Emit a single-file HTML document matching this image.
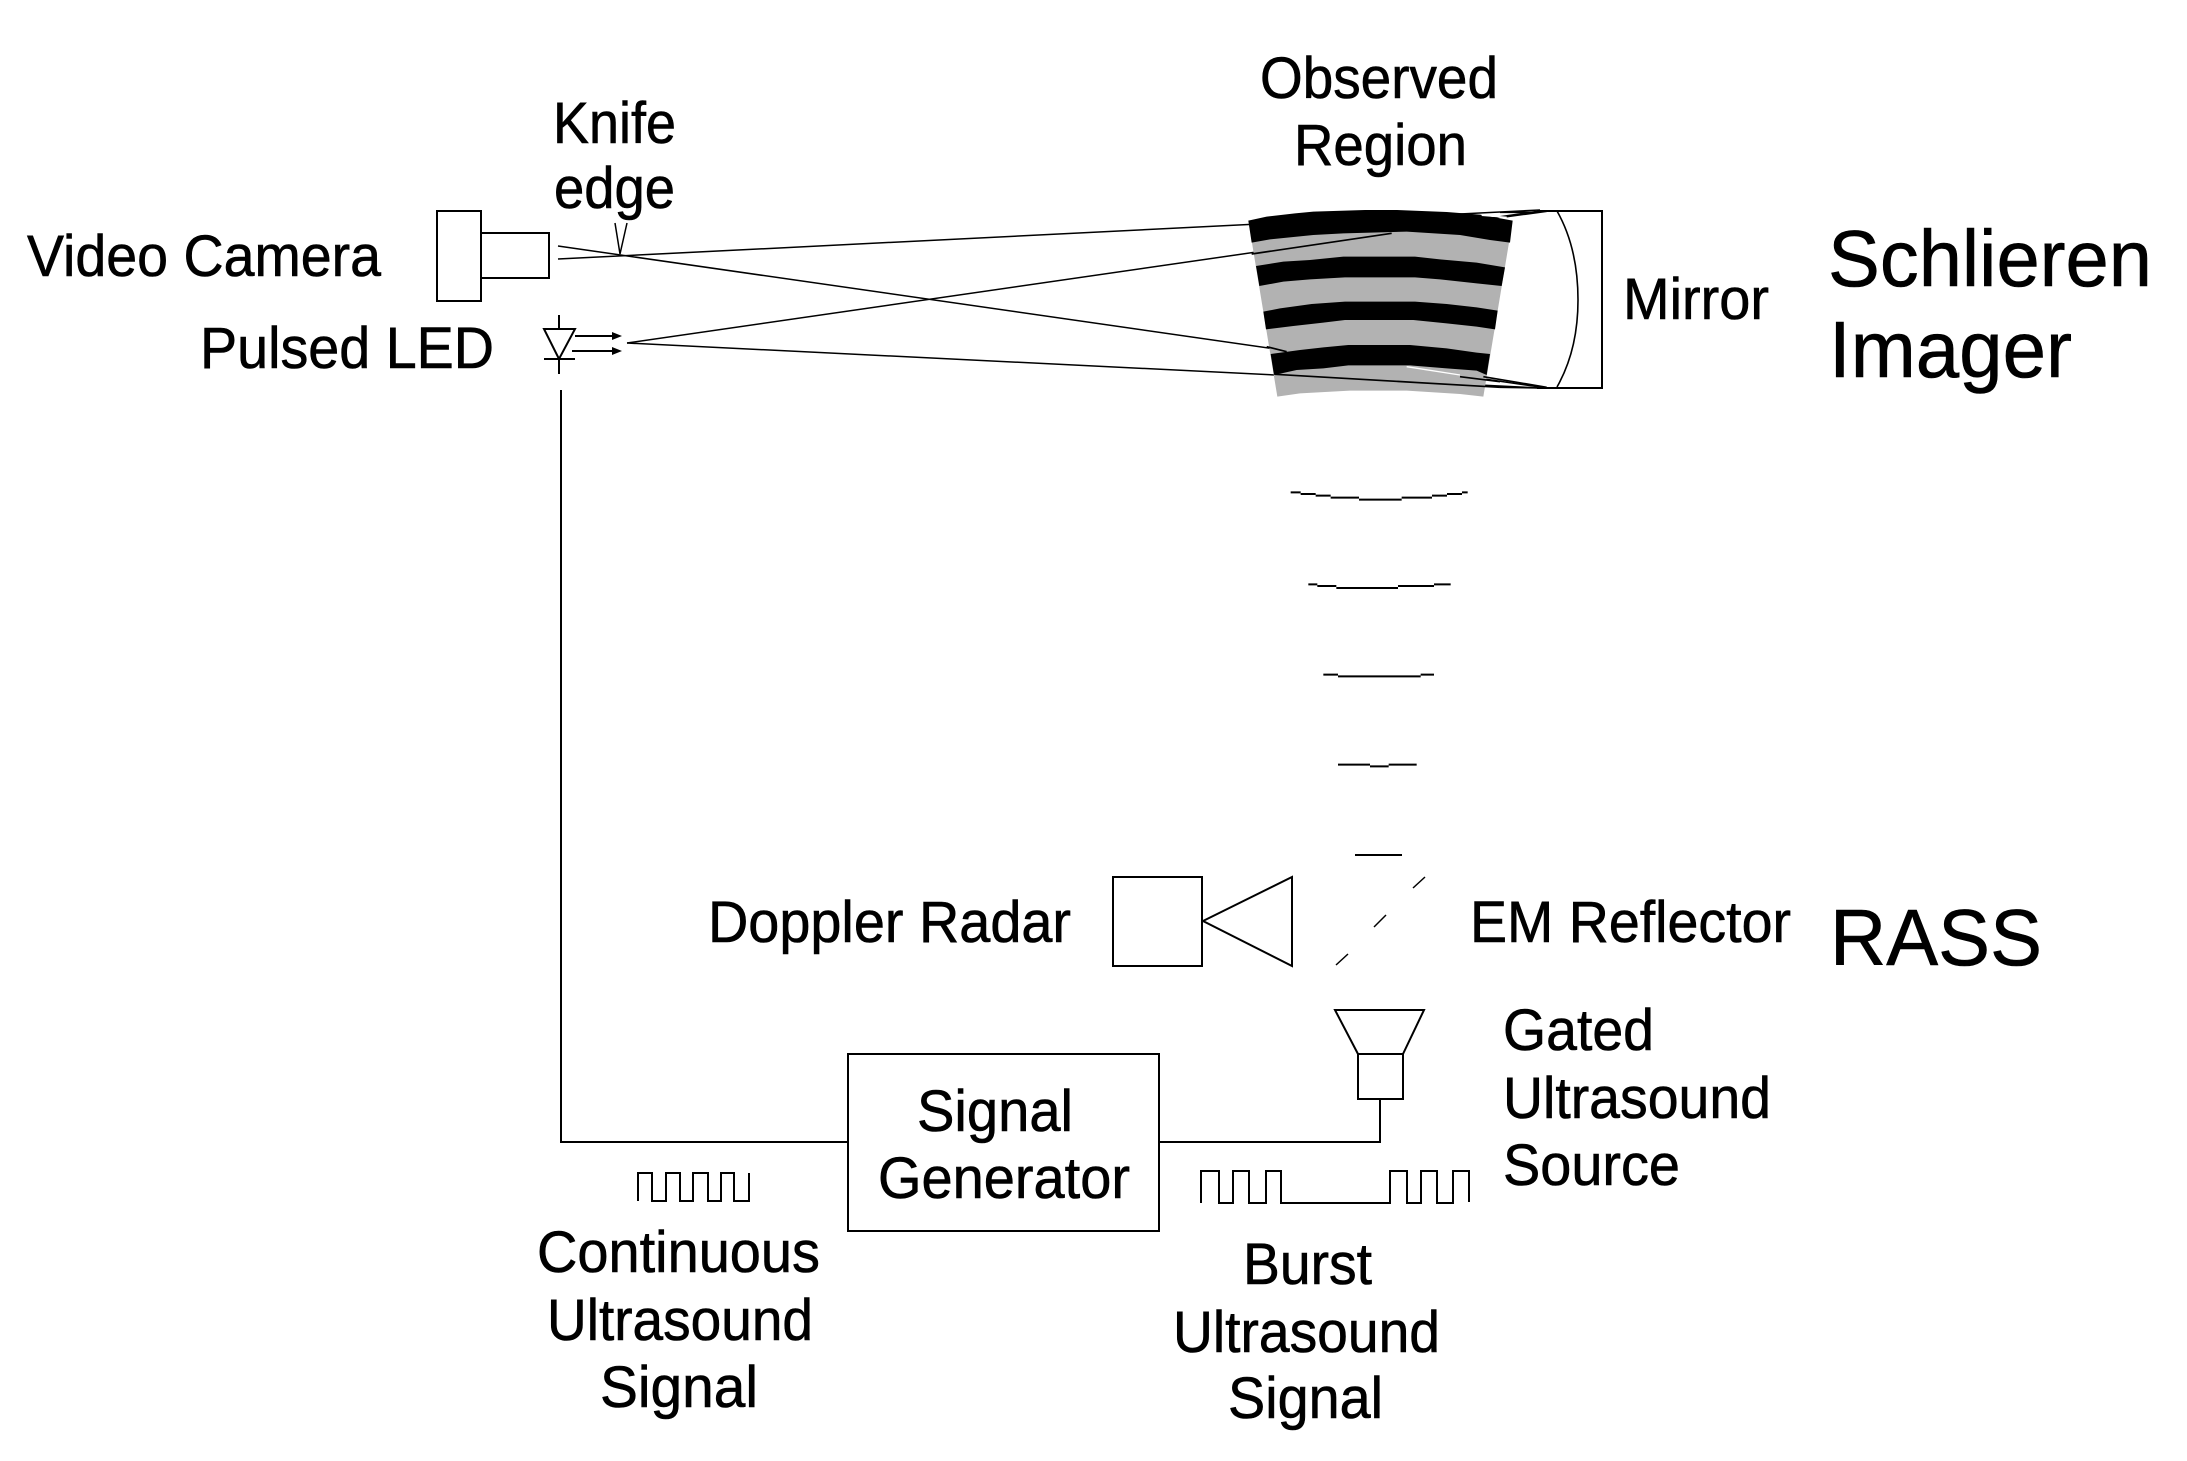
<!DOCTYPE html>
<html><head><meta charset="utf-8"><style>
html,body{margin:0;padding:0;background:#fff;width:2187px;height:1461px;overflow:hidden}
svg{display:block}
text{font-family:"Liberation Sans",Arial,sans-serif;fill:#000;font-size:58px;stroke:#000;stroke-width:.6}
.lg{font-size:80px}
.l{fill:none;stroke:#000;stroke-width:2}
.t{fill:none;stroke:#000;stroke-width:1.5}
</style></head><body>
<svg width="2187" height="1461" viewBox="0 0 2187 1461" xmlns="http://www.w3.org/2000/svg">
<rect width="2187" height="1461" fill="#fff"/>
<!-- rays -->
<g class="t">
<line x1="558" y1="259" x2="1540" y2="210"/>
<line x1="558" y1="246" x2="1540" y2="387"/>
<line x1="627" y1="343" x2="1540" y2="211"/>
<line x1="627" y1="343" x2="1540" y2="388"/>
</g>
<!-- sector -->
<g transform="translate(1200,180) scale(0.33333)">
<polygon fill="#b2b2b2" points="145,122 938,122 850,650 780,642 620,632 450,632 300,640 232,650"/>
<polygon fill="#000" points="145,122 200,110 285,100 340,95 495,90 590,90 740,96 840,104 938,122 930,188 870,180 780,165 620,155 430,160 340,165 210,178 155,188"/>
<polygon fill="#000" points="168,258 250,245 330,240 430,230 645,230 720,238 830,248 915,262 905,318 830,310 720,298 645,292 435,292 330,298 250,305 178,318"/>
<polygon fill="#000" points="190,395 240,385 335,372 435,365 645,365 740,372 830,382 893,392 885,448 830,440 740,430 640,420 435,420 370,428 280,438 198,448"/>
<polygon fill="#000" points="212,522 300,510 370,502 445,495 630,495 740,505 830,518 870,522 860,585 830,572 740,565 630,556 445,556 370,565 290,570 222,585"/>
<g fill="none" stroke="#000" stroke-width="5">
<line x1="155" y1="222" x2="575" y2="160"/>
<line x1="200" y1="500" x2="260" y2="515"/>
<line x1="225" y1="583" x2="900" y2="622"/>
<line x1="780" y1="590" x2="900" y2="605"/>
</g>
<g fill="none" stroke="#fff" stroke-width="4">
<line x1="845" y1="106" x2="920" y2="112"/>
<line x1="620" y1="560" x2="780" y2="585"/>
</g>
<g fill="none" stroke="#000" stroke-width="5">
<line x1="900" y1="97" x2="1010" y2="97"/>
<line x1="920" y1="110" x2="1040" y2="94"/>
<line x1="850" y1="590" x2="1040" y2="622"/>
<line x1="900" y1="622" x2="1040" y2="624"/>
</g>
</g>
<!-- mirror -->
<g class="l">
<polyline points="1537,211 1602,211 1602,388 1537,388"/>
<path d="M1557,211 Q1578,248 1578,300 Q1578,350 1557,387" stroke-width="1.6"/>
</g>
<!-- camera -->
<g class="l">
<rect x="437" y="211" width="44" height="90"/>
<rect x="481" y="233" width="68" height="45"/>
<polyline class="t" points="615,223 620,254 627,223"/>
</g>
<!-- LED -->
<g class="l">
<line x1="559" y1="315" x2="559" y2="329"/>
<line x1="559" y1="359" x2="559" y2="374"/>
<polygon points="544,329 575,329 559,359"/>
<line x1="544" y1="359" x2="575" y2="359"/>
<line x1="575" y1="336" x2="618" y2="336"/>
<line x1="572" y1="351" x2="618" y2="351"/>
</g>
<polygon points="622,336 612,332 612,340" fill="#000"/>
<polygon points="622,351 612,347 612,355" fill="#000"/>
<!-- wiring and signal generator -->
<g class="l">
<polyline points="561,390 561,1142 848,1142"/>
<rect x="848" y="1054" width="311" height="177"/>
<polyline points="1159,1142 1380,1142 1380,1099"/>
<rect x="1358" y="1054" width="45" height="45"/>
<polyline points="1358,1054 1335,1010 1424,1010 1403,1054"/>
<rect x="1113" y="877" width="89" height="89"/>
<polygon points="1203,921 1292,877 1292,966"/>
<polyline points="638,1201 638,1173 652,1173 652,1201 666,1201 666,1173 680,1173 680,1201 693,1201 693,1173 708,1173 708,1201 721,1201 721,1173 734,1173 734,1201 749,1201 749,1173"/>
<polyline points="1201,1203 1201,1171 1219,1171 1219,1203 1233,1203 1233,1171 1249,1171 1249,1203 1266,1203 1266,1171 1281,1171 1281,1203 1390,1203 1390,1171 1407,1171 1407,1203 1421,1203 1421,1171 1437,1171 1437,1203 1453,1203 1453,1171 1469,1171 1469,1202"/>
</g>
<!-- reflector -->
<g class="t">
<line x1="1413" y1="888" x2="1425" y2="877"/>
<line x1="1374" y1="927" x2="1386" y2="915"/>
<line x1="1336" y1="965" x2="1348" y2="954"/>
</g>
<!-- wavefronts -->
<g class="l" transform="translate(1260,460) scale(0.33333)" style="stroke-width:6">
<path d="M92,97H122M122,102H167M167,107H212M212,113H297M297,119H425M425,113H516M516,107H561M561,102H606M606,97H623"/>
<path d="M145,373H172M172,378H229M229,384H414M414,378H522M522,373H572"/>
<path d="M190,644H234M234,649H482M482,644H522"/>
<path d="M234,914H330M330,919H386M386,914H470"/>
<path d="M285,1185H425"/>
</g>
<line class="l" x1="1355" y1="855" x2="1402" y2="855"/>
<!-- labels -->
<g>
<text x="1260" y="98" textLength="238" lengthAdjust="spacingAndGlyphs">Observed</text>
<text x="1294" y="165" textLength="173" lengthAdjust="spacingAndGlyphs">Region</text>
<text x="553" y="143" textLength="123" lengthAdjust="spacingAndGlyphs">Knife</text>
<text x="554" y="208" textLength="121" lengthAdjust="spacingAndGlyphs">edge</text>
<text x="27" y="276" textLength="354" lengthAdjust="spacingAndGlyphs">Video Camera</text>
<text x="200" y="368" textLength="294" lengthAdjust="spacingAndGlyphs">Pulsed LED</text>
<text x="1623" y="319" textLength="146" lengthAdjust="spacingAndGlyphs">Mirror</text>
<text class="lg" x="1828" y="286" textLength="324" lengthAdjust="spacingAndGlyphs">Schlieren</text>
<text class="lg" x="1829" y="377" textLength="243" lengthAdjust="spacingAndGlyphs">Imager</text>
<text x="708" y="942" textLength="363" lengthAdjust="spacingAndGlyphs">Doppler Radar</text>
<text x="1470" y="942" textLength="321" lengthAdjust="spacingAndGlyphs">EM Reflector</text>
<text class="lg" x="1830" y="965" textLength="212" lengthAdjust="spacingAndGlyphs">RASS</text>
<text x="1503" y="1050" textLength="151" lengthAdjust="spacingAndGlyphs">Gated</text>
<text x="1503" y="1118" textLength="268" lengthAdjust="spacingAndGlyphs">Ultrasound</text>
<text x="1503" y="1185" textLength="177" lengthAdjust="spacingAndGlyphs">Source</text>
<text x="917" y="1131" textLength="156" lengthAdjust="spacingAndGlyphs">Signal</text>
<text x="878" y="1198" textLength="252" lengthAdjust="spacingAndGlyphs">Generator</text>
<text x="537" y="1272" textLength="283" lengthAdjust="spacingAndGlyphs">Continuous</text>
<text x="547" y="1340" textLength="266" lengthAdjust="spacingAndGlyphs">Ultrasound</text>
<text x="600" y="1407" textLength="158" lengthAdjust="spacingAndGlyphs">Signal</text>
<text x="1243" y="1284" textLength="129" lengthAdjust="spacingAndGlyphs">Burst</text>
<text x="1173" y="1352" textLength="267" lengthAdjust="spacingAndGlyphs">Ultrasound</text>
<text x="1228" y="1418" textLength="155" lengthAdjust="spacingAndGlyphs">Signal</text>
</g>
</svg>
</body></html>
